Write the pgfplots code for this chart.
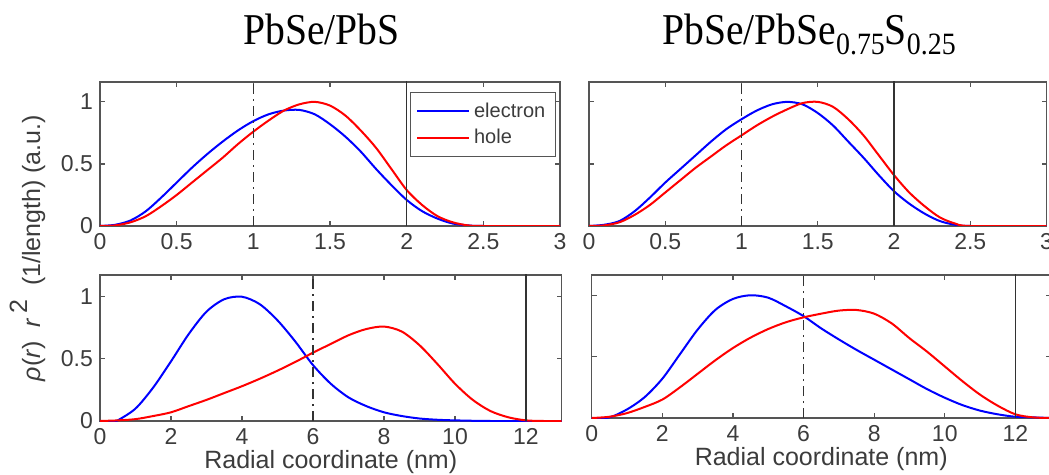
\documentclass[border=0pt]{standalone}
\usepackage{fontspec}
\setmainfont{Liberation Sans}
\newfontfamily\titlefont{Liberation Serif}
\usepackage{graphicx}
\usepackage{pgfplots}
\pgfplotsset{compat=1.18}

\definecolor{framegray}{RGB}{85,85,85}
\definecolor{refgray}{RGB}{50,50,50}
\definecolor{labelgray}{RGB}{60,60,60}
\definecolor{elec}{RGB}{0,0,255}
\definecolor{hole}{RGB}{255,0,0}

\pgfplotsset{
  panel/.style={
    scale only axis, anchor=north west,
    ymin=0, ytick={0,0.5,1},
    axis line style={framegray, line width=0.6pt},
    tick style={framegray, line width=0.6pt},
    major tick length=2.5pt,
    tick align=inside,
    xtick pos=both, ytick pos=both,
    ticklabel style={font=\fontsize{11.5}{11.5}\selectfont, text=labelgray},
    xticklabel style={yshift=-0.3pt},
    /pgf/number format/assume math mode=true,
    every axis plot/.append style={line width=1pt},
    xlabel style={font=\fontsize{12.5}{12.5}\selectfont, text=labelgray,
      at={(axis description cs:0.5,0)}, anchor=base, yshift=-23.5pt},
  },
  top panel/.style={panel, xmin=0, xmax=3, xtick={0,0.5,...,3}, width=230pt, height=72pt, ymax=1.16},
  bottom panel/.style={panel, xmin=0, xmax=13, xtick={0,2,...,12}, width=230.75pt, height=73pt, ymax=1.175,
    xlabel={Radial coordinate (nm)}},
  inner line/.style={refgray, line width=0.8pt, dash pattern=on 5pt off 2.5pt on 1pt off 2.5pt},
  shell line/.style={refgray, line width=0.8pt},
  elec line/.style={elec, line width=1pt, smooth},
  hole line/.style={hole, line width=1pt, smooth},
}

\begin{document}
\begin{tikzpicture}
\useasboundingbox (0pt,0pt) rectangle (524.5pt,-237.5pt);

% titles
\node[anchor=base] at (160.75pt,-22.5pt)
  {\scalebox{0.9}[1]{\fontsize{22}{22}\titlefont PbSe/PbS}};
\node[anchor=base] at (404.5pt,-22.5pt)
  {\scalebox{0.9}[1]{\fontsize{22}{22}\titlefont PbSe/PbSe\raisebox{-5pt}{\fontsize{15.5}{15.5}\selectfont 0.75}S\raisebox{-5pt}{\fontsize{15.5}{15.5}\selectfont 0.25}}};

% shared y label
\node[rotate=90, anchor=base, text=labelgray, font=\fontsize{12.5}{12.5}\selectfont]
  at (20pt,-124pt)
  {\textit{ρ}(\textit{r})\ \ \textit{r}\,\raisebox{6.5pt}{2}\ \ (1/length) (a.u.)};

% PbSe/PbS, small core
\begin{axis}[top panel, at={(50pt,-41pt)},
  legend style={at={(0.991,0.93)}, anchor=north east, draw=framegray, line width=0.6pt,
    font=\fontsize{10}{12}\selectfont, text=labelgray, fill=white,
    inner xsep=3pt, inner ysep=3pt, row sep=0.5pt, cells={anchor=west}},
  legend image code/.code={\draw[#1] (0pt,0pt) -- (26pt,0pt);}]
\addplot[elec line] table {
0 0
0.1 0.01
0.2 0.045
0.3 0.12
0.4 0.23
0.5 0.35
0.6 0.47
0.7 0.58
0.8 0.68
0.9 0.77
1.0 0.845
1.1 0.90
1.2 0.93
1.3 0.935
1.4 0.90
1.5 0.82
1.6 0.72
1.7 0.60
1.8 0.46
1.9 0.33
2.0 0.21
2.1 0.12
2.2 0.06
2.3 0.02
2.4 0.005
2.5 0
3.0 0
};
\addlegendentry{electron}
\addplot[hole line] table {
0 0
0.1 0.005
0.2 0.03
0.3 0.08
0.4 0.16
0.5 0.25
0.6 0.35
0.7 0.45
0.8 0.55
0.9 0.66
1.0 0.76
1.1 0.85
1.2 0.93
1.3 0.98
1.4 1.0
1.5 0.97
1.6 0.89
1.7 0.77
1.8 0.63
1.9 0.46
2.0 0.29
2.1 0.17
2.2 0.08
2.3 0.03
2.4 0.005
2.5 0
3.0 0
};
\addlegendentry{hole}
\addplot[inner line, forget plot] coordinates {(1,0) (1,1.2)};
\addplot[shell line, forget plot] coordinates {(2,0) (2,1.2)};
\end{axis}

% PbSe/PbSe0.75S0.25, small core
\begin{axis}[top panel, at={(294.5pt,-41pt)}, width=228.75pt, yticklabels={}]
\addplot[elec line] table {
0 0
0.1 0.01
0.2 0.04
0.3 0.12
0.4 0.23
0.5 0.35
0.6 0.46
0.7 0.57
0.8 0.68
0.9 0.78
1.0 0.86
1.1 0.93
1.2 0.98
1.3 1.0
1.4 0.98
1.5 0.91
1.6 0.81
1.7 0.68
1.8 0.55
1.9 0.41
2.0 0.28
2.1 0.18
2.2 0.10
2.3 0.04
2.4 0.01
2.5 0
3.0 0
};
\addplot[hole line] table {
0 0
0.1 0.005
0.2 0.03
0.3 0.09
0.4 0.17
0.5 0.27
0.6 0.37
0.7 0.47
0.8 0.56
0.9 0.65
1.0 0.73
1.1 0.81
1.2 0.88
1.3 0.94
1.4 0.99
1.5 1.0
1.6 0.96
1.7 0.86
1.8 0.73
1.9 0.57
2.0 0.41
2.1 0.27
2.2 0.16
2.3 0.07
2.4 0.02
2.5 0
3.0 0
};
\addplot[inner line] coordinates {(1,0) (1,1.2)};
\addplot[shell line] coordinates {(2,0) (2,1.2)};
\end{axis}

% PbSe/PbS, large core
\begin{axis}[bottom panel, at={(50pt,-137.5pt)}]
\addplot[elec line] table {
0 0
0.4 0
0.5 0.005
1.0 0.10
1.5 0.27
2.0 0.48
2.5 0.70
3.0 0.88
3.5 0.98
4.0 1.0
4.5 0.94
5.0 0.81
5.5 0.64
6.0 0.45
6.5 0.30
7.0 0.19
7.5 0.12
8.0 0.07
8.5 0.04
9.0 0.02
9.5 0.01
10.0 0.005
11.0 0
13.0 0
};
\addplot[hole line] table {
0 0
0.5 0.005
1.0 0.015
1.5 0.04
2.0 0.07
2.5 0.12
3.0 0.17
3.5 0.225
4.0 0.28
4.5 0.34
5.0 0.405
5.5 0.475
6.0 0.55
6.5 0.62
7.0 0.69
7.5 0.74
8.0 0.76
8.5 0.72
9.0 0.61
9.5 0.46
10.0 0.30
10.5 0.17
11.0 0.08
11.5 0.03
12.0 0.005
12.5 0
13.0 0
};
\addplot[inner line] coordinates {(6,0) (6,1.2)};
\addplot[shell line] coordinates {(12,0) (12,1.2)};
\end{axis}

% PbSe/PbSe0.75S0.25, large core
\begin{axis}[bottom panel, at={(295.85pt,-137.5pt)}, width=229.5pt, height=71.5pt, ymax=1.165, yticklabels={}]
\addplot[elec line] table {
0 0
0.5 0.005
1.0 0.07
1.5 0.17
2.0 0.32
2.5 0.52
3.0 0.72
3.5 0.88
4.0 0.97
4.5 1.0
5.0 0.98
5.5 0.91
6.0 0.83
6.5 0.73
7.0 0.64
7.5 0.555
8.0 0.475
8.5 0.395
9.0 0.315
9.5 0.235
10.0 0.165
10.5 0.105
11.0 0.06
11.5 0.03
12.0 0.01
12.5 0.005
13.0 0
};
\addplot[hole line] table {
0 0
0.5 0.01
1.0 0.04
1.5 0.09
2.0 0.15
2.5 0.25
3.0 0.36
3.5 0.47
4.0 0.57
4.5 0.655
5.0 0.725
5.5 0.78
6.0 0.82
6.5 0.85
7.0 0.875
7.5 0.88
8.0 0.85
8.5 0.77
9.0 0.65
9.5 0.54
10.0 0.42
10.5 0.30
11.0 0.19
11.5 0.10
12.0 0.03
12.5 0.005
13.0 0
};
\addplot[inner line] coordinates {(6,0) (6,1.2)};
\addplot[shell line] coordinates {(12,0) (12,1.2)};
\end{axis}
\end{tikzpicture}
\end{document}
